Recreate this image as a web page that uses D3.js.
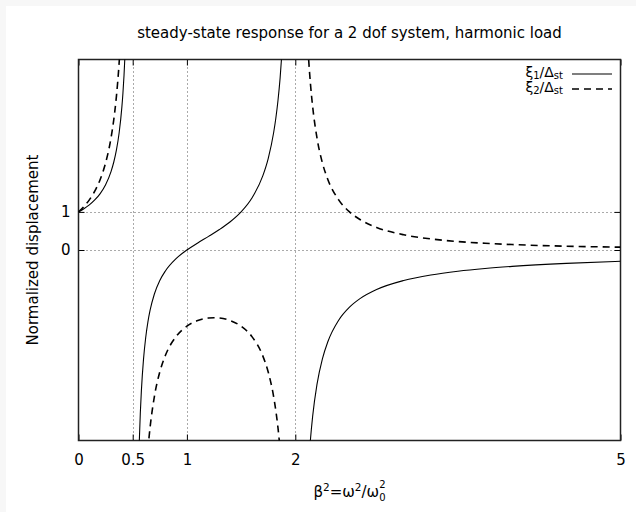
<!DOCTYPE html>
<html lang="en">
<head>
    <meta charset="UTF-8">
    <script src="https://d3js.org/d3.v7.min.js"></script>
    <style>
        body { margin: 0; background: #f7f7f7; }
        svg { display: block; }
        text { font-family: "DejaVu Sans", sans-serif; fill: #000; }
    </style>
    <title>2 dof steady-state response</title>
</head>
<body>
    <script type="text/javascript">
    // values (beta^2 and normalized displacement)
    const xTicks = [0, 0.5, 1, 2, 5];
    const yTicks = [0, 1];
    const xTickLabels = ["0", "0.5", "1", "2", "5"];

    // xi1 / delta_st, three branches split by the resonances at 0.5 and 2
    const xi1BetaA = [0, 0.05, 0.1, 0.15, 0.2, 0.25, 0.3, 0.325, 0.35, 0.375, 0.4, 0.41, 0.42, 0.43, 0.44];
    const xi1ValA  = [1, 1.083, 1.184, 1.313, 1.481, 1.714, 2.059, 2.303, 2.626, 3.077, 3.75, 4.123, 4.589, 5.187, 5.983];
    const xi1BetaB = [0.55, 0.56, 0.57, 0.58, 0.6, 0.62, 0.64, 0.66, 0.7, 0.75, 0.8, 0.9, 1, 1.1, 1.2, 1.3, 1.4, 1.5, 1.6, 1.7, 1.75, 1.8, 1.82, 1.84, 1.86, 1.88, 1.9];
    const xi1ValB  = [-6.207, -5.093, -4.296, -3.697, -2.857, -2.295, -1.891, -1.586, -1.154, -0.8, -0.556, -0.227, 0, 0.185, 0.357, 0.536, 0.741, 1, 1.364, 1.944, 2.4, 3.077, 3.451, 3.918, 4.517, 5.314, 6.286];
    const xi1BetaC = [2.1, 2.12, 2.14, 2.16, 2.2, 2.25, 2.3, 2.4, 2.5, 2.6, 2.75, 3, 3.25, 3.5, 3.75, 4, 4.5, 5];
    const xi1ValC  = [-6.875, -5.761, -4.965, -4.367, -3.529, -2.857, -2.407, -1.842, -1.5, -1.27, -1.037, -0.8, -0.655, -0.556, -0.484, -0.429, -0.35, -0.296];

    // xi2 / delta_st
    const xi2BetaA = [0, 0.05, 0.1, 0.15, 0.2, 0.25, 0.3, 0.325, 0.35, 0.375, 0.39, 0.4];
    const xi2ValA  = [1, 1.14, 1.316, 1.544, 1.852, 2.286, 2.941, 3.412, 4.04, 4.923, 5.647, 6.25];
    const xi2BetaB = [0.6, 0.62, 0.64, 0.65, 0.66, 0.7, 0.75, 0.8, 0.9, 1, 1.1, 1.2, 1.25, 1.3, 1.4, 1.5, 1.6, 1.7, 1.75, 1.8, 1.82, 1.84, 1.86, 1.88, 1.9];
    const xi2ValB  = [-7.143, -6.039, -5.252, -4.938, -4.664, -3.846, -3.2, -2.778, -2.273, -2, -1.852, -1.786, -1.778, -1.786, -1.852, -2, -2.273, -2.778, -3.2, -3.846, -4.209, -4.664, -5.252, -6.039, -7.143];
    const xi2BetaC = [2.1, 2.12, 2.14, 2.16, 2.2, 2.25, 2.3, 2.4, 2.5, 2.6, 2.75, 3, 3.25, 3.5, 3.75, 4, 4.5, 5];
    const xi2ValC  = [6.25, 5.144, 4.355, 3.765, 2.941, 2.286, 1.852, 1.316, 1, 0.794, 0.593, 0.4, 0.291, 0.222, 0.176, 0.143, 0.1, 0.074];

    const w = 636, h = 512;
    const pLeft = 78.5, pRight = 620.5, pTop = 59.5, pBottom = 440.5;

    const x = d3.scaleLinear([0, 5], [pLeft, pRight]);
    const y = d3.scaleLinear([-5, 5], [pBottom, pTop]);

    const svg = d3.select("body").append("svg")
        .attr("width", w).attr("height", h);

    svg.append("rect")
        .attr("x", 6).attr("y", 6).attr("width", w - 6).attr("height", h - 6)
        .attr("fill", "#fff");

    svg.append("clipPath").attr("id", "plot")
        .append("rect")
        .attr("x", pLeft).attr("y", pTop)
        .attr("width", pRight - pLeft).attr("height", pBottom - pTop);

    // grid (dotted)
    const grid = svg.append("g")
        .attr("stroke", "#555").attr("stroke-width", 1).attr("stroke-dasharray", "1,3");
    grid.selectAll("line.gx").data([0.5, 1, 2]).enter().append("line")
        .attr("x1", d => Math.round(x(d)) + 0.5).attr("x2", d => Math.round(x(d)) + 0.5)
        .attr("y1", pTop).attr("y2", pBottom);
    grid.selectAll("line.gy").data(yTicks).enter().append("line")
        .attr("x1", pLeft).attr("x2", pRight)
        .attr("y1", d => Math.round(y(d)) + 0.5).attr("y2", d => Math.round(y(d)) + 0.5);

    // axes: inward ticks, mirrored on top/right
    const axB = svg.append("g").attr("transform", `translate(0,${pBottom})`)
        .call(d3.axisBottom(x).tickValues(xTicks).tickFormat((d, i) => xTickLabels[i])
            .tickSizeInner(-6).tickSizeOuter(0).tickPadding(14));
    const axT = svg.append("g").attr("transform", `translate(0,${pTop})`)
        .call(d3.axisTop(x).tickValues(xTicks).tickFormat("").tickSizeInner(-6).tickSizeOuter(0));
    const axL = svg.append("g").attr("transform", `translate(${pLeft},0)`)
        .call(d3.axisLeft(y).tickValues(yTicks).tickSizeInner(-6).tickSizeOuter(0).tickPadding(8));
    const axR = svg.append("g").attr("transform", `translate(${pRight},0)`)
        .call(d3.axisRight(y).tickValues(yTicks).tickFormat("").tickSizeInner(-6).tickSizeOuter(0));
    [axB, axT, axL, axR].forEach(a => {
        a.select(".domain").remove();
        a.selectAll("line").attr("stroke", "#000");
        a.selectAll("text").attr("font-size", "15px").attr("font-family", "DejaVu Sans, sans-serif");
    });

    // border
    svg.append("rect")
        .attr("x", pLeft).attr("y", pTop)
        .attr("width", pRight - pLeft).attr("height", pBottom - pTop)
        .attr("fill", "none").attr("stroke", "#222").attr("stroke-width", 1.5);

    // curves
    const line = d3.line()
        .x(d => x(d[0])).y(d => y(d[1]))
        .curve(d3.curveMonotoneX);
    const pairs = (bs, vs) => bs.map((b, i) => [b, vs[i]]);

    const curves = svg.append("g").attr("clip-path", "url(#plot)").attr("fill", "none");
    [[xi1BetaA, xi1ValA], [xi1BetaB, xi1ValB], [xi1BetaC, xi1ValC]].forEach(s => {
        curves.append("path").attr("d", line(pairs(s[0], s[1])))
            .attr("stroke", "#000").attr("stroke-width", 1.1);
    });
    [[xi2BetaA, xi2ValA], [xi2BetaB, xi2ValB], [xi2BetaC, xi2ValC]].forEach(s => {
        curves.append("path").attr("d", line(pairs(s[0], s[1])))
            .attr("stroke", "#000").attr("stroke-width", 1.6).attr("stroke-dasharray", "7,5");
    });

    // legend
    const leg = svg.append("g");
    const rows = [{ n: "1", dash: null, sw: 1.1, y: 74 }, { n: "2", dash: "7,5", sw: 1.6, y: 89 }];
    rows.forEach(r => {
        const t = leg.append("text").attr("x", 563).attr("y", r.y + 3)
            .attr("text-anchor", "end").attr("font-size", "14px");
        t.append("tspan").text("ξ");
        t.append("tspan").attr("font-size", "10px").attr("dy", 2).text(r.n);
        t.append("tspan").attr("dy", -2).text("/Δ");
        t.append("tspan").attr("font-size", "10px").attr("dy", 2).text("st");
        leg.append("line").attr("x1", 572).attr("x2", 612).attr("y1", r.y).attr("y2", r.y)
            .attr("stroke", "#000").attr("stroke-width", r.sw)
            .attr("stroke-dasharray", r.dash);
    });

    // title and axis labels
    svg.append("text").attr("x", (pLeft + pRight) / 2).attr("y", 38)
        .attr("text-anchor", "middle").attr("font-size", "15px")
        .text("steady-state response for a 2 dof system, harmonic load");

    svg.append("text")
        .attr("transform", `translate(38,${(pTop + pBottom) / 2}) rotate(-90)`)
        .attr("text-anchor", "middle").attr("font-size", "15px")
        .text("Normalized displacement");

    const xl = svg.append("text").attr("x", (pLeft + pRight) / 2).attr("y", 497)
        .attr("text-anchor", "middle").attr("font-size", "15px");
    xl.append("tspan").text("β");
    xl.append("tspan").attr("font-size", "10.5px").attr("dy", -6).text("2");
    xl.append("tspan").attr("dy", 6).text("=ω");
    xl.append("tspan").attr("font-size", "10.5px").attr("dy", -6).text("2");
    xl.append("tspan").attr("dy", 6).text("/ω");
    xl.append("tspan").attr("font-size", "10px").attr("dy", 4).text("0");
    xl.append("tspan").attr("font-size", "10px").attr("dy", -13).attr("dx", -6.4).text("2");
    </script>
</body>
</html>
